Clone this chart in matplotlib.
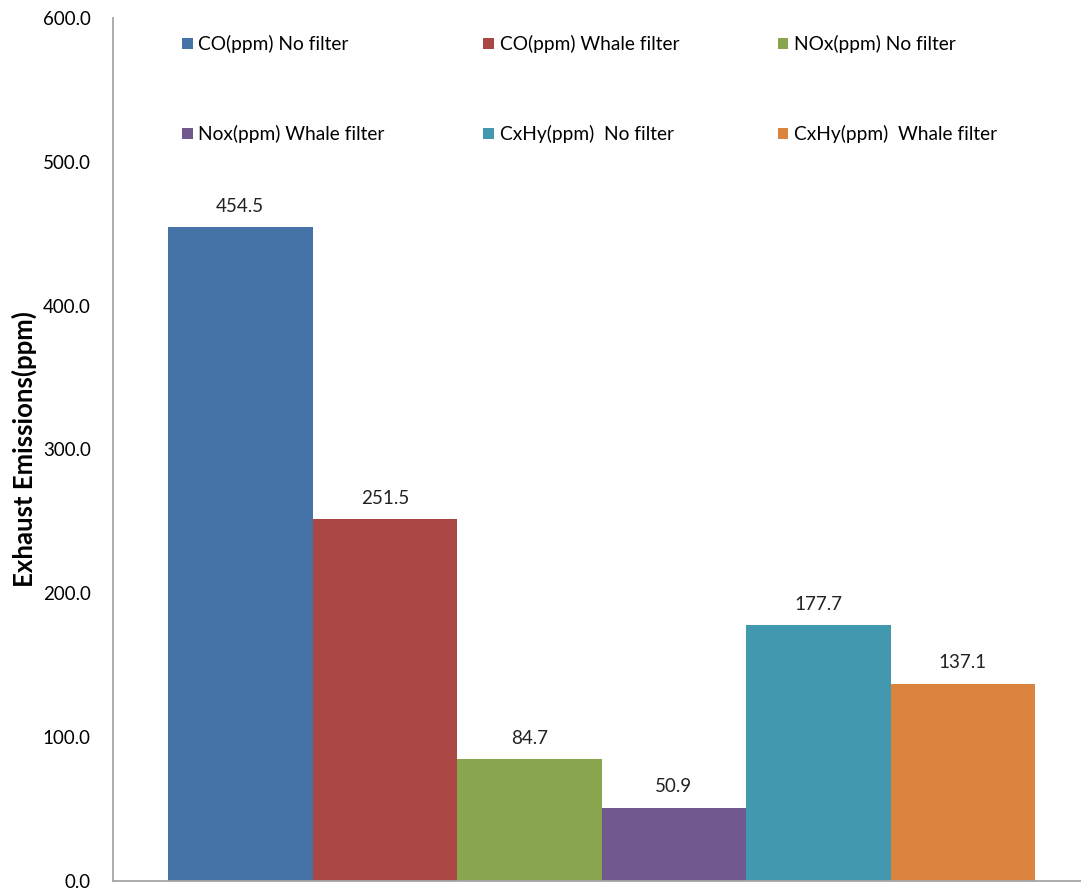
import matplotlib
matplotlib.use("Agg")
import matplotlib.pyplot as plt

series = ["CO(ppm) No filter", "CO(ppm) Whale filter", "NOx(ppm) No filter",
          "Nox(ppm) Whale filter", "CxHy(ppm)  No filter", "CxHy(ppm)  Whale filter"]
values = [454.5, 251.5, 84.7, 50.9, 177.7, 137.1]
colors = ["#4572A7", "#AA4643", "#89A54E", "#71588F", "#4198AF", "#DB843D"]
yticks = [0, 100, 200, 300, 400, 500, 600]

plt.rcParams['font.family'] = ['Lato', 'DejaVu Sans']

fig = plt.figure(figsize=(10.81, 8.91), dpi=100)
ax = fig.add_axes([113/1081, 10/891, 1 - 113/1081, (881-18)/891])

handles = []
for i, (s, v, c) in enumerate(zip(series, values, colors)):
    b = ax.bar(i, v, width=1.0, color=c, label=s, linewidth=0)
    handles.append(b)
    ax.annotate(f"{v:.1f}", (i, v), xytext=(0, 9), textcoords="offset points",
                ha="center", va="bottom", fontsize=13.5, color="#222222")

ax.set_xlim(-0.5 - 55/144.5, 5.5 + 46/144.5)
ax.set_ylim(0, 600)
ax.set_yticks(yticks)
ax.set_yticklabels([f"{t:.1f}" for t in yticks], fontsize=13.5)
ax.set_xticks([])
ax.tick_params(axis='y', length=0, pad=16)
for sp in ["top", "right"]:
    ax.spines[sp].set_visible(False)
for sp in ["left", "bottom"]:
    ax.spines[sp].set_color("#a6a6a6")
    ax.spines[sp].set_linewidth(1.3)
ax.set_ylabel("Exhaust Emissions(ppm)", fontsize=18.5, fontweight="bold", labelpad=4)

order = [0, 3, 1, 4, 2, 5]
leg = ax.legend([handles[i] for i in order], [series[i] for i in order], ncol=3,
                loc="upper left", bbox_to_anchor=(0.0535, 1.0), frameon=False,
                fontsize=13.8, handlelength=0.55, handleheight=0.55, handletextpad=0.3,
                labelspacing=3.75, columnspacing=5.15)

fig.savefig("out.png", dpi=100)
